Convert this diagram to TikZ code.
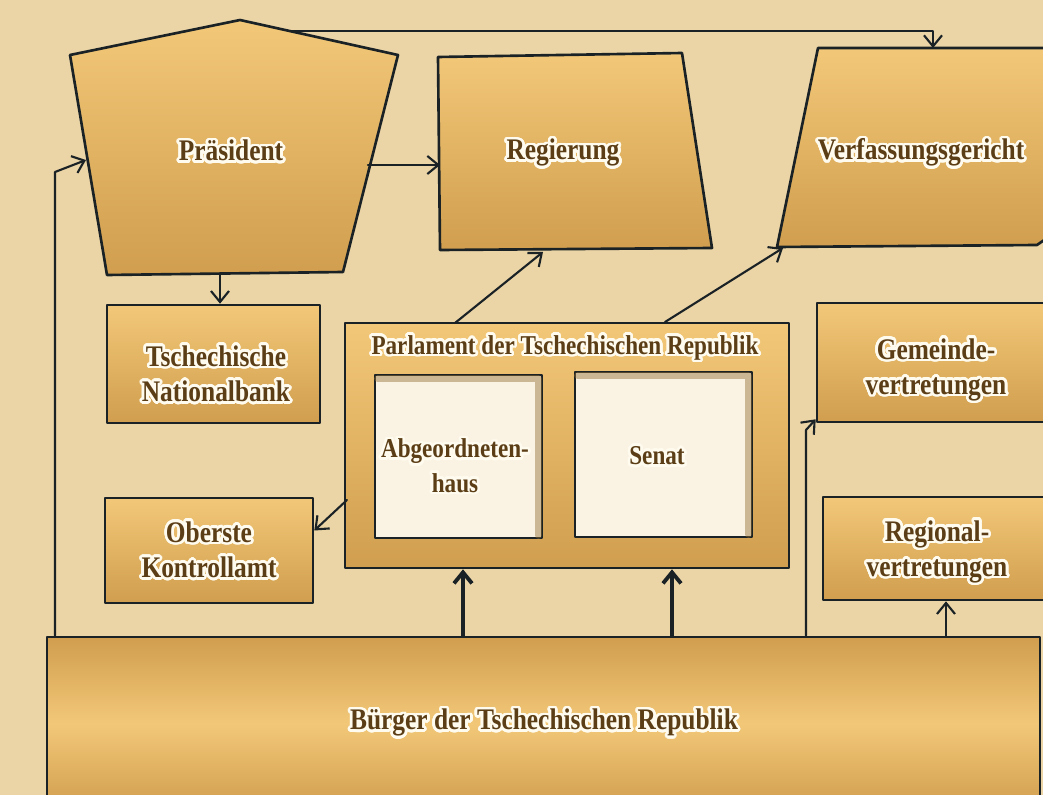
\documentclass[tikz,border=0pt]{standalone}
\usepackage{fontspec}
\setmainfont{Liberation Serif}[FakeStretch=0.85]
\usepackage{contour}
\usetikzlibrary{arrows.meta,fit}
\definecolor{paper}{RGB}{235,212,166}
\definecolor{ochreA}{RGB}{242,200,120}
\definecolor{ochreB}{RGB}{208,158,78}
\definecolor{cream}{RGB}{250,243,228}
\definecolor{umber}{RGB}{150,112,52}
\definecolor{ink}{RGB}{92,62,22}
\definecolor{pen}{RGB}{26,34,38}
\definecolor{glow}{RGB}{255,251,238}
\contourlength{1.5pt}
\contournumber{32}
\newcommand\gl[1]{\contour{glow}{#1}}
\newcommand\smallfont{\fontsize{15.5}{19.5}\selectfont}

\begin{document}
\begin{tikzpicture}[x=0.2mm, y=-0.2mm, line join=round, line cap=round,
  >={Straight Barb[length=2.2mm,width=3.6mm]},
  font=\fontsize{17}{20}\selectfont\bfseries,
  wash/.style={draw=pen, line width=1.5pt, top color=ochreA, bottom color=ochreB},
  box/.style={wash, inner sep=0pt},
  house/.style={draw=pen, line width=1.5pt, fill=cream, inner sep=0pt},
  lbl/.style={text=ink, align=center},
  wire/.style={draw=pen, line width=1.2pt},
  heavy/.style={draw=pen, line width=2.2pt}]
\clip (0,0) rectangle (1043,795);
\fill[paper] (0,0) rectangle (1043,795);

% oberes Register
\filldraw[wash] (240,20) -- (398,55) -- (343,272) -- (107,275) -- (70,55) -- cycle;
\filldraw[wash] (438,57) -- (682,53) -- (712,248) -- (440,250) -- cycle;
\filldraw[wash] (818,48) -- (1050,48) -- (1050,236) -- (1037,245) -- (777,247) -- cycle;

% Kästen
\node[box, fit={(107,305) (320,423)}] (cnb) {};
\node[box, fit={(105,498) (313,603)}] (nku) {};
\node[box, fit={(817,303) (1046,422)}] (gemeinden) {};
\node[box, fit={(823,497) (1048,600)}] (regionen) {};
\node[box, fit={(345,323) (789,568)}] (parlament) {};
\node[house, fit={(375,375) (542,538)}] (psp) {};
\node[house, fit={(575,372) (752,537)}] (senat) {};
\foreach \k in {psp,senat}
  \draw[umber, line width=4pt, opacity=.45]
    ([shift={(4,5)}]\k.north west) -- ([shift={(-5,5)}]\k.north east) -- ([shift={(-5,-4)}]\k.south east);
\node[box, fit={(47,637) (1040,810)}, top color=ochreB, bottom color=ochreB, middle color=ochreA] (buerger) {};

% Beschriftungen
\node[lbl] (praesident) at (231,152) {\gl{Präsident}};
\node[lbl] (regierung) at (563,154) {\gl{Regierung}};
\node[lbl] (verfgericht) at (921,154) {\gl{Verfassungsgericht}};
\node[lbl] (cnb-t) at (216,375) {\gl{Tschechische}\\\gl{Nationalbank}};
\node[lbl] (nku-t) at (209,551) {\gl{Oberste}\\\gl{Kontrollamt}};
\node[lbl] (gemeinden-t) at (936,371) {\gl{Gemeinde-}\\\gl{vertretungen}};
\node[lbl] (regionen-t) at (937,553) {\gl{Regional-}\\\gl{vertretungen}};
\node[lbl, font=\smallfont\bfseries] (parl-t) at (565,349) {\gl{Parlament der Tschechischen Republik}};
\node[lbl, font=\smallfont\bfseries] (psp-t) at (455,467) {\gl{Abgeordneten-}\\\gl{haus}};
\node[lbl, font=\smallfont\bfseries] (senat-t) at (657,457) {\gl{Senat}};
\node[lbl] (buerger-t) at (544,724) {\gl{Bürger der Tschechischen Republik}};

\path
(290,31) coordinate (p-top)
(933,48) coordinate (v-top)
(368,165) coordinate (p-right)
(440,165) coordinate (r-left)
(220,274) coordinate (p-bot)
(86,160) coordinate (p-left)
(55,172) coordinate (knick)
(455,323) coordinate (pa-l)
(543,252) coordinate (r-bot)
(665,322) coordinate (pa-r)
(783,248) coordinate (v-bot)
(347,500) coordinate (pa-w)
(463,0) coordinate (b1)
(672,0) coordinate (b2)
(806,430) coordinate (b3)
(946,0) coordinate (b4);

% Verbindungen
\draw[wire,->] (p-top) -| (v-top);
\draw[wire,->] (p-right) -- (r-left);
\draw[wire,->] (p-bot) -- (cnb.north -| p-bot);
\draw[wire,->] (knick |- buerger.north) -- (knick) -- (p-left);
\draw[wire,->] (pa-l) -- (r-bot);
\draw[wire,->] (pa-r) -- (v-bot);
\draw[wire,->] (pa-w) -- ([yshift=4mm]nku.east);
\draw[heavy,->] (b1 |- buerger.north) -- (b1 |- parlament.south);
\draw[heavy,->] (b2 |- buerger.north) -- (b2 |- parlament.south);
\draw[wire,->] (b3 |- buerger.north) -- (b3) -- ([yshift=.8mm]gemeinden.south west);
\draw[wire,->] (b4 |- buerger.north) -- (b4 |- regionen.south);
\end{tikzpicture}
\end{document}
